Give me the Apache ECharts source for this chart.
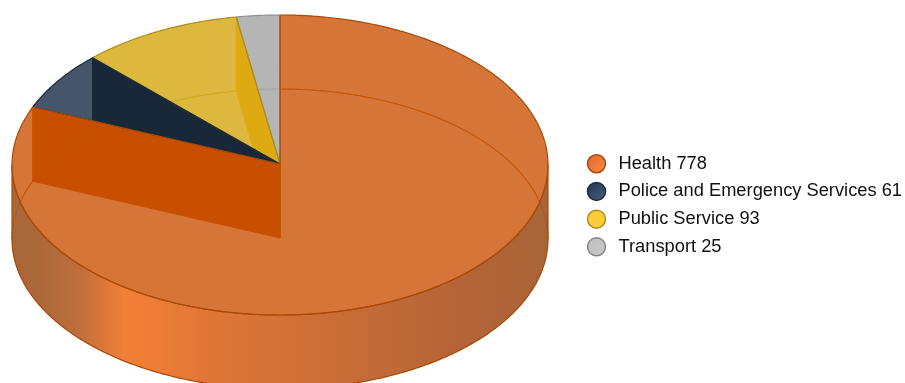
<!DOCTYPE html>
<html>
<head>
<meta charset="utf-8">
<style>html,body{margin:0;padding:0;background:#fff}#chart{width:905px;height:383px}</style>
<script src="https://cdn.jsdelivr.net/npm/echarts@6/dist/echarts.min.js"></script>
</head>
<body>
<div id="chart"></div>
<script>
// Budget shares, in the order they run clockwise from twelve o'clock
const categories = ['Health', 'Police and Emergency Services', 'Public Service', 'Transport'];
const values = [778, 61, 93, 25];

const topColors = ['rgba(201,79,0,0.78)', 'rgba(18,37,63,0.78)', 'rgba(213,163,8,0.78)', 'rgba(160,160,160,0.78)'];
const wallColors = ['#c85000', '#2d3220', '#ffc337', '#b4b4b4'];
const edgeColors = ['#a84a08', '#1a2a3c', '#b08c1c', '#8e8e8e'];
const legendStops = [
  ['#e4642a', '#f68c4a', '#a84a08'],
  ['#1f3350', '#48607f', '#1a2a3c'],
  ['#ffc832', '#ffd040', '#b08c1c'],
  ['#c0c0c0', '#c8c8c8', '#858585']
];
const sideStops = [
  [0, '#a8673a'], [0.045, '#ac673a'], [0.125, '#be6e3a'], [0.177, '#de7838'], [0.21, '#f38038'],
  [0.245, '#f07d37'], [0.38, '#de7637'], [0.645, '#c66c37'], [0.834, '#b46437'], [1, '#a86437']
];

// Projection of the disc: ellipse radii, centre of the upper face, slice apex and extrusion depth
const disc = { cx: 280, cy: 165, apexY: 164, rx: 268, ry: 150, depth: 74 };
const total = values.reduce((a, b) => a + b, 0);

function rim(deg, drop) {
  const t = deg * Math.PI / 180;
  return [disc.cx + disc.rx * Math.sin(t), disc.cy - disc.ry * Math.cos(t) + drop];
}
function arc(from, to, drop) {
  const pts = [];
  const n = Math.max(2, Math.ceil(Math.abs(to - from) * 2));
  for (let i = 0; i <= n; i++) pts.push(rim(from + (to - from) * i / n, drop));
  return pts;
}

function sliceRenderer(index) {
  const start = values.slice(0, index).reduce((a, b) => a + b, 0) / total * 360;
  return function (params, api) {
    const end = start + api.value(1) / total * 360;
    const children = [];
    const edge = edgeColors[index];
    const farSpans = [[start, Math.min(end, 90)], [Math.max(start, 270), end]]
      .filter(function (r) { return r[1] > r[0]; });

    // Far rim of the lower face: clear behind the walls, barely there across them
    farSpans.forEach(function (r) {
      const pts = arc(r[0], r[1], disc.depth);
      children.push({
        type: 'polyline', z2: 5,
        shape: { points: pts },
        style: { fill: null, stroke: edge, lineWidth: 1.1, opacity: 0.6 }
      });
      children.push({
        type: 'polyline', z2: 20,
        shape: { points: pts },
        style: { fill: null, stroke: edge, lineWidth: 1, opacity: 0.16 }
      });
    });

    // Cut wall at the slice's closing angle; earlier slices stack in front of later ones
    const a = rim(end, 0);
    const b = rim(end, disc.depth);
    children.push({
      type: 'polygon', z2: 10 + (categories.length - index),
      shape: { points: [[disc.cx, disc.apexY], a, b, [disc.cx, disc.apexY + disc.depth]] },
      style: { fill: wallColors[index], stroke: wallColors[index], lineWidth: 1 }
    });

    // Outer skin of the near half, with the far rim showing faintly through its ends
    const f0 = Math.max(start, 90);
    const f1 = Math.min(end, 270);
    if (f1 > f0) {
      children.push({
        type: 'polygon', z2: 25,
        shape: { points: arc(f0, f1, 0).concat(arc(f1, f0, disc.depth)) },
        style: {
          fill: {
            type: 'linear', x: 0, y: 0, x2: 1, y2: 0,
            colorStops: sideStops.map(function (s) { return { offset: s[0], color: s[1] }; })
          },
          stroke: edge, lineWidth: 1.2
        }
      });
      farSpans.forEach(function (r) {
        children.push({
          type: 'polyline', z2: 26,
          shape: { points: arc(r[0], r[1], disc.depth) },
          style: { fill: null, stroke: edge, lineWidth: 1, opacity: 0.55 }
        });
      });
    }

    // Upper face; earlier slices lay their edge over the next one
    children.push({
      type: 'polygon', z2: 30 + (categories.length - index),
      shape: { points: [[disc.cx, disc.apexY]].concat(arc(start, end, 0)) },
      style: { fill: topColors[index], stroke: edge, lineWidth: 1.2, lineJoin: 'round' }
    });
    return { type: 'group', children: children };
  };
}

const chart = echarts.init(document.getElementById('chart'), null, { renderer: 'canvas' });
chart.setOption({
  animation: false,
  backgroundColor: '#ffffff',
  legend: {
    orient: 'vertical',
    right: 3,
    top: 154,
    padding: 0,
    itemWidth: 34,
    itemHeight: 18,
    itemGap: 8.2,
    icon: 'circle',
    selectedMode: false,
    formatter: function (name) { return name + ' ' + values[categories.indexOf(name)]; },
    textStyle: { fontFamily: 'Liberation Sans', fontSize: 18.3, lineHeight: 18, color: '#111111' },
    data: categories.map(function (name, i) {
      return {
        name: name,
        itemStyle: {
          color: {
            type: 'linear', x: 0, y: 0, x2: 1, y2: 1,
            colorStops: [{ offset: 0, color: legendStops[i][0] }, { offset: 1, color: legendStops[i][1] }]
          },
          borderColor: legendStops[i][2],
          borderWidth: 1.5
        }
      };
    })
  },
  series: categories.map(function (name, i) {
    return {
      type: 'custom',
      name: name,
      coordinateSystem: 'none',
      silent: true,
      clip: false,
      renderItem: sliceRenderer(i),
      data: [[i, values[i]]]
    };
  })
});
</script>
</body>
</html>
